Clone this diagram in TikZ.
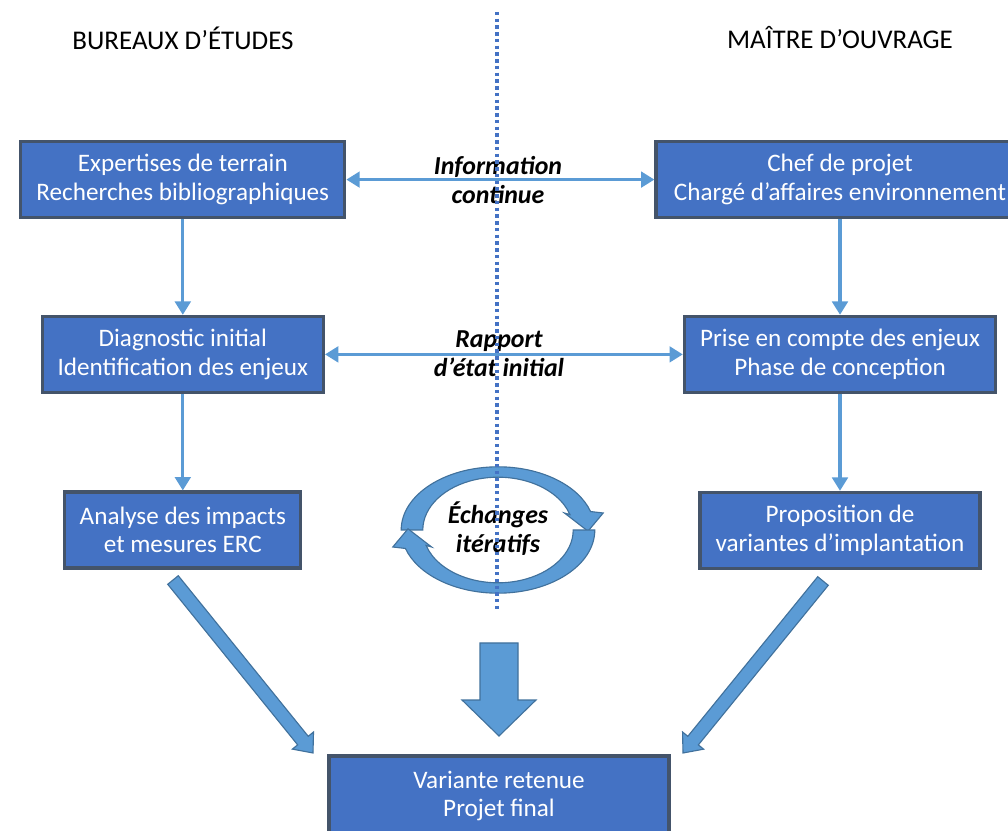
\documentclass[tikz,border=0pt]{standalone}
\usepackage{fontspec}
\setmainfont{Carlito}
\usepackage{tikz}
\usetikzlibrary{calc}
\usetikzlibrary{arrows.meta}
\usetikzlibrary{positioning}
\definecolor{boxblue}{HTML}{4472C4}
\definecolor{boxline}{HTML}{44546A}
\definecolor{lineblue}{HTML}{5B9BD5}
\definecolor{darkblue}{HTML}{41719C}
\tikzset{>={Triangle[length=9.5pt, width=11pt]}}
\tikzstyle{box} = [draw=boxline, fill=boxblue, line width=2.2pt, text=white, align=center, minimum height=1.9cm, inner sep=0, font=\fontsize{17.9}{20.2}\selectfont]
\tikzstyle{flow} = [->, draw=lineblue, line width=2.4pt]
\tikzstyle{both} = [<->, draw=lineblue, line width=2.4pt]
\tikzstyle{lbl} = [align=center, inner sep=0, font=\fontsize{18.4}{20.5}\selectfont\bfseries\itshape]
\tikzstyle{head} = [font=\fontsize{19.2}{21}\selectfont]
\tikzstyle{bigarrow} = [fill=lineblue, draw=darkblue, line width=0.8pt, line join=miter]
\tikzstyle{cyc} = [fill=lineblue, draw=darkblue, line width=0.8pt]
\tikzstyle{sep} = [draw=boxblue, line width=2.2pt, dash pattern=on 2.4pt off 2.4pt]
% tail, tip, half shaft, half head, head length
\newcommand{\blockarrow}[5]{%
  \coordinate (hb) at ($(#2)!#5!(#1)$);
  \draw [bigarrow] ($(#1)!#3!90:(#2)$) -- ($(hb)!#3!90:(#2)$) -- ($(hb)!#4!90:(#2)$) -- (#2)
    -- ($(hb)!#4!-90:(#2)$) -- ($(hb)!#3!-90:(#2)$) -- ($(#1)!#3!-90:(#2)$) -- cycle;
}

\begin{document}
\begin{tikzpicture}
\useasboundingbox (0,0) rectangle (25.2,20.75);
% column titles
\node [head] (be) at (4.575, 19.8) {BUREAUX D’ÉTUDES};
\node [head] (mo) at (21, 19.8) {MAÎTRE D’OUVRAGE};
% boxes
\node [box, minimum width=8.1cm] (e1) at (4.57, 16.26) {Expertises de terrain\\Recherches bibliographiques};
\node [box, minimum width=7.03cm] (e2) at (4.57, 11.89) {Diagnostic initial\\Identification des enjeux};
\node [box, minimum width=5.9cm] (e3) at (4.57, 7.5) {Analyse des impacts\\et mesures ERC};
\node [box, minimum width=9.2cm] (m1) at (21, 16.26) {Chef de projet\\Chargé d’affaires environnement};
\node [box, minimum width=7.78cm] (m2) at (21, 11.89) {Prise en compte des enjeux\\Phase de conception};
\node [box, minimum width=7cm] (m3) at (21, 7.49) {Proposition de\\variantes d’implantation};
\node [box, minimum width=8.5cm, minimum height=2cm] (v) at (12.475, 0.85) {Variante retenue\\Projet final};
% arrows
\draw [flow] (e1.south) -- (e2.north);
\draw [flow] (e2.south) -- (e3.north);
\draw [flow] (m1.south) -- (m2.north);
\draw [flow] (m2.south) -- (m3.north);
\draw [both] (e1.east) -- (m1.west);
\draw [both] (e2.east) -- (m2.west);
\node [lbl] (info) at (12.45, 16.24) {Information\\continue};
\node [lbl] (rap) at (12.475, 11.91) {Rapport\\d’état initial};
% exchange loop
\coordinate (c) at (12.45, 7.5);
\filldraw [cyc] ($(c)+(180:2.42 and 1.58)$) arc [start angle=180, end angle=17, x radius=2.42, y radius=1.58]
  -- ($(c)+(2.63,0.425)$) -- ($(c)+(2.25,-0.03)$) -- ($(c)+(1.66,0.425)$)
  -- ($(c)+(17:1.88 and 1.32)$) arc [start angle=17, end angle=180, x radius=1.88, y radius=1.32] -- cycle;
\filldraw [cyc] ($(c)+(0:2.42 and 1.58)$) arc [start angle=0, end angle=-163, x radius=2.42, y radius=1.58]
  -- ($(c)+(-2.63,-0.425)$) -- ($(c)+(-2.25,0.03)$) -- ($(c)+(-1.66,-0.425)$)
  -- ($(c)+(-163:1.88 and 1.32)$) arc [start angle=-163, end angle=0, x radius=1.88, y radius=1.32] -- cycle;
\node [lbl] (ech) at (12.45, 7.54) {Échanges\\itératifs};
% big arrows to the final box
\coordinate (d1) at (4.325, 6.25);
\coordinate (d2) at (7.825, 1.925);
\coordinate (d3) at (20.575, 6.225);
\coordinate (d4) at (17.075, 1.925);
\coordinate (d5) at (12.475, 4.675);
\coordinate (d6) at (12.475, 2.35);
\blockarrow{d1}{d2}{0.17cm}{0.34cm}{0.4cm}
\blockarrow{d3}{d4}{0.17cm}{0.34cm}{0.4cm}
\blockarrow{d5}{d6}{0.475cm}{0.925cm}{0.9cm}
% separation line
\coordinate (septop) at (12.425, 20.45);
\coordinate (sepbot) at (12.425, 5.45);
\draw [sep] (septop) -- (sepbot);
\end{tikzpicture}
\end{document}
